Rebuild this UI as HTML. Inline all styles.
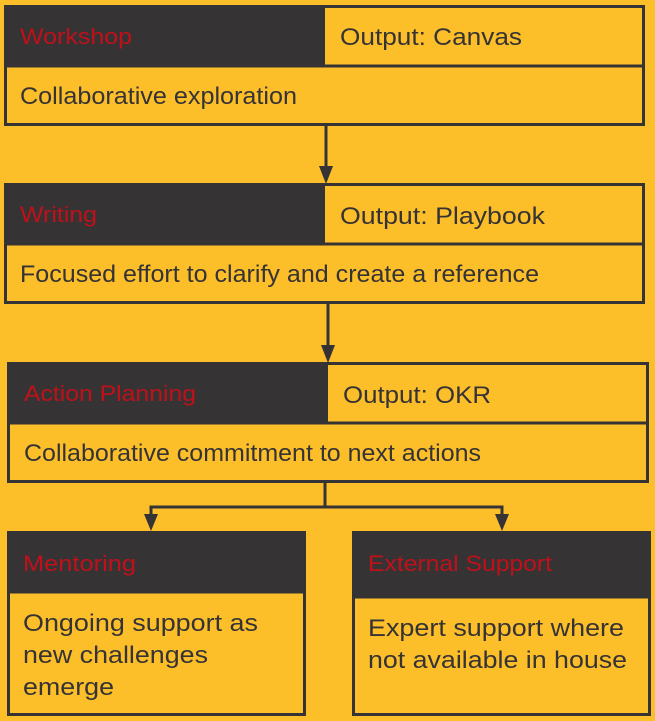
<!DOCTYPE html>
<html><head><meta charset="utf-8"><style>
html,body{margin:0;padding:0;background:#FCBF2A;}
svg{display:block}
text{font-family:"Liberation Sans",sans-serif;}
.t{fill:#C0101A;font-size:22px}
.b{fill:#363335;font-size:24px}
</style></head><body>
<svg width="655" height="721" viewBox="0 0 655 721" xmlns="http://www.w3.org/2000/svg">
<rect width="655" height="721" fill="#FCBF2A"/>
<g stroke="#363335" stroke-width="3" fill="none">
<rect x="5.5" y="6.5" width="638" height="118" fill="#FCBF2A"/>
<rect x="5" y="6" width="320" height="60" fill="#363335" stroke="none"/>
<line x1="5" y1="66" x2="644" y2="66"/>
<rect x="5.5" y="184.5" width="638" height="118" fill="#FCBF2A"/>
<rect x="5" y="184" width="320" height="60" fill="#363335" stroke="none"/>
<line x1="5" y1="244" x2="644" y2="244"/>
<rect x="8.5" y="363.5" width="639" height="118" fill="#FCBF2A"/>
<rect x="8" y="363" width="320" height="60" fill="#363335" stroke="none"/>
<line x1="8" y1="423" x2="648" y2="423"/>
<rect x="8.5" y="532.5" width="296" height="182" fill="#FCBF2A"/>
<rect x="8" y="532" width="297" height="60" fill="#363335" stroke="none"/>
<line x1="8" y1="592" x2="305" y2="592"/>
<rect x="353.5" y="532.5" width="296" height="182" fill="#FCBF2A"/>
<rect x="353" y="532" width="297" height="65" fill="#363335" stroke="none"/>
<line x1="353" y1="597" x2="650" y2="597"/>
<line x1="326" y1="126" x2="326" y2="170"/>
<line x1="328" y1="304" x2="328" y2="349"/>
<line x1="325" y1="483" x2="325" y2="507"/>
<polyline points="151,518 151,507 502,507 502,518"/>
</g>
<g fill="#363335">
<polygon points="319,166 333,166 326,184"/>
<polygon points="321,345 335,345 328,363"/>
<polygon points="144,514 158,514 151,531"/>
<polygon points="495,514 509,514 502,531"/>
</g>
<g>
<text class="t" x="20" y="44" textLength="112" lengthAdjust="spacingAndGlyphs">Workshop</text>
<text class="b" x="340" y="45" textLength="182" lengthAdjust="spacingAndGlyphs">Output: Canvas</text>
<text class="b" x="20" y="104" textLength="277" lengthAdjust="spacingAndGlyphs">Collaborative exploration</text>
<text class="t" x="20" y="222" textLength="77" lengthAdjust="spacingAndGlyphs">Writing</text>
<text class="b" x="340" y="224" textLength="205" lengthAdjust="spacingAndGlyphs">Output: Playbook</text>
<text class="b" x="20" y="282" textLength="519" lengthAdjust="spacingAndGlyphs">Focused effort to clarify and create a reference</text>
<text class="t" x="24" y="401" textLength="172" lengthAdjust="spacingAndGlyphs">Action Planning</text>
<text class="b" x="343" y="403" textLength="148" lengthAdjust="spacingAndGlyphs">Output: OKR</text>
<text class="b" x="24" y="461" textLength="457" lengthAdjust="spacingAndGlyphs">Collaborative commitment to next actions</text>
<text class="t" x="23" y="571" textLength="113" lengthAdjust="spacingAndGlyphs">Mentoring</text>
<text class="b" x="23" y="631" textLength="235" lengthAdjust="spacingAndGlyphs">Ongoing support as</text>
<text class="b" x="23" y="663" textLength="185" lengthAdjust="spacingAndGlyphs">new challenges</text>
<text class="b" x="23" y="695" textLength="91" lengthAdjust="spacingAndGlyphs">emerge</text>
<text class="t" x="368" y="571" textLength="184" lengthAdjust="spacingAndGlyphs">External Support</text>
<text class="b" x="368" y="636" textLength="256" lengthAdjust="spacingAndGlyphs">Expert support where</text>
<text class="b" x="368" y="668" textLength="259" lengthAdjust="spacingAndGlyphs">not available in house</text>
</g>
</svg>
</body></html>
